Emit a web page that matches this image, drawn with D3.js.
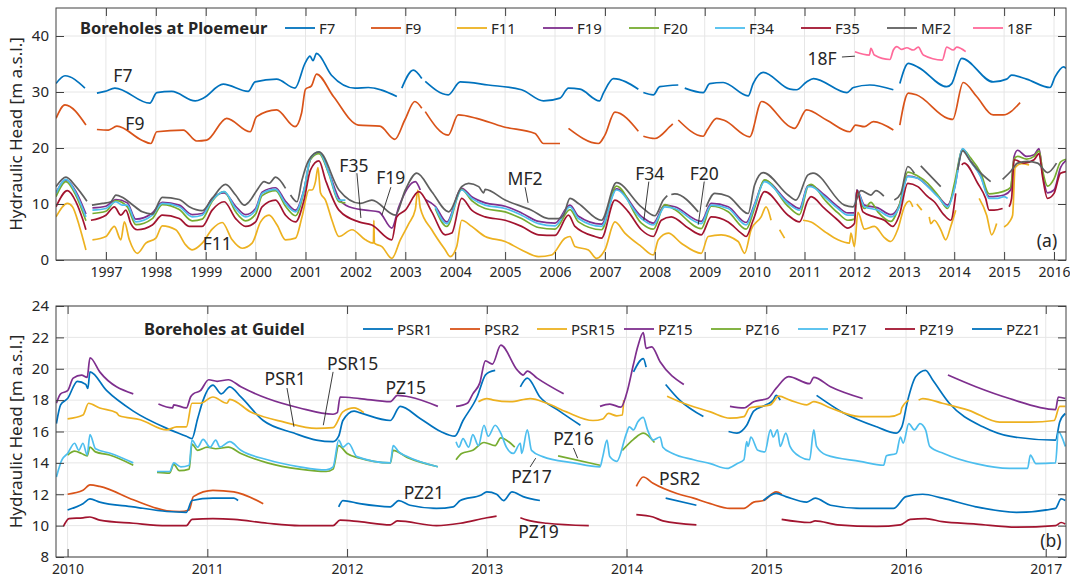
<!DOCTYPE html>
<html>
<head>
<meta charset="utf-8">
<script src="https://cdn.jsdelivr.net/npm/d3@7"></script>
<style>
body { margin: 0; background: #fff; }
svg text { font-family: "Noto Sans", sans-serif; fill: #262626; }
</style>
</head>
<body>
<svg id="chart" width="1070" height="582"></svg>
<script>
// ---- data: [decimal year, head (m a.s.l.)], null = gap in record ----
// Ploemeur boreholes
var f7 = [[1996.0,31.5],[1996.18,32.9],[1996.58,30.7],null,[1996.82,29.8],[1996.98,30.1],[1997.18,30.7],[1997.88,28.0],[1998.02,29.9],[1998.32,30.1],[1998.79,28.4],[1998.95,28.9],[1999.35,31.4],[1999.85,30.1],[1999.99,31.8],[2000.42,32.3],[2000.79,30.7],[2000.99,35.1],[2001.09,36.4],[2001.15,35.6],[2001.22,36.9],[2001.52,33.0],[2001.99,30.7],[2002.26,30.8],[2002.83,29.2],null,[2002.93,30.7],[2003.16,33.9],[2003.33,32.4],null,[2003.4,31.9],[2003.86,29.5],[2004.1,31.8],[2004.66,31.25],[2005.33,30.4],[2005.77,28.4],[2006.1,28.9],[2006.27,30.7],[2006.5,30.5],[2006.89,28.4],[2006.97,29.8],[2007.17,32.4],[2007.67,30.5],null,[2007.77,29.9],[2007.97,29.5],[2008.1,30.95],[2008.47,31.25],null,[2008.6,30.7],[2008.97,29.9],[2009.1,31.5],[2009.37,31.7],[2009.87,29.3],[2009.97,31.5],[2010.17,33.5],[2010.71,30.5],[2010.84,30.4],[2011.04,31.8],[2011.18,32.4],[2011.85,29.9],[2011.98,30.8],[2012.31,31.25],[2012.78,30.4],null,[2012.91,31.5],[2013.08,35.1],[2013.28,34.4],[2013.85,30.95],[2013.95,31.5],[2014.15,36.0],[2014.78,31.8],[2015.05,32.3],[2015.15,33.0],[2015.45,32.3],[2015.92,30.8],[2016.02,32.7],[2016.19,34.5],[2016.24,34.2]];
var f9 = [[1996.0,25.3],[1996.18,27.7],[1996.6,24.1],null,[1996.82,23.3],[1997.05,23.2],[1997.22,23.9],[1997.72,21.4],[1997.9,20.8],[1998.02,22.9],[1998.55,23.2],[1998.82,21.25],[1999.02,21.4],[1999.42,25.3],[1999.89,22.9],[2000.02,25.6],[2000.42,26.8],[2000.79,23.8],[2000.92,26.2],[2001.0,30.5],[2001.12,31.1],[2001.22,33.2],[2001.56,29.2],[2002.06,24.1],[2002.49,23.9],[2002.79,21.55],[2002.99,25.0],[2003.19,28.3],[2003.33,27.1],null,[2003.4,26.5],[2003.86,22.3],[2004.06,25.9],[2004.43,25.3],[2004.96,23.8],[2005.6,22.6],[2005.77,20.8],[2006.1,20.8],null,[2006.27,23.5],[2006.87,20.8],[2007.0,22.3],[2007.2,26.4],[2007.67,23.0],null,[2007.77,22.1],[2008.0,21.7],[2008.3,23.8],[2008.36,24.3],null,[2008.47,25.0],[2008.97,22.1],[2009.05,23.2],[2009.24,25.3],[2009.4,24.9],[2009.9,22.0],[2010.14,28.3],[2010.71,23.8],[2010.8,23.5],[2011.04,26.8],[2011.44,25.0],[2011.91,22.9],[2012.02,24.1],[2012.2,23.8],[2012.38,24.7],[2012.78,23.2],null,[2012.91,24.1],[2013.08,29.8],[2013.24,29.5],[2013.87,25.3],[2013.97,25.1],[2014.18,31.7],[2014.45,29.2],[2014.78,25.9],[2014.98,25.9],[2015.32,28.1]];
var f11 = [[1996.0,7.7],[1996.23,10.1],[1996.33,9.5],[1996.47,6.0],[1996.6,1.8],null,[1996.73,3.6],[1997.0,4.2],[1997.17,6.0],[1997.3,3.6],[1997.37,6.8],[1997.47,3.6],[1997.63,1.2],[1997.8,3.0],[1998.0,3.9],[1998.13,6.1],[1998.4,5.4],[1998.6,2.7],[1998.73,1.8],[1998.93,3.0],[1999.13,5.5],[1999.33,6.7],[1999.53,3.6],[1999.73,2.1],[1999.93,3.0],[2000.1,6.8],[2000.27,8.0],[2000.43,6.25],[2000.6,3.6],[2000.8,3.9],[2000.93,7.7],[2001.07,12.5],[2001.13,12.5],[2001.2,14.0],[2001.25,16.5],[2001.3,12.0],[2001.4,10.7],[2001.53,7.1],[2001.67,4.2],[2001.93,5.4],[2002.2,3.6],[2002.36,3.0],[2002.37,7.1],[2002.38,3.0],[2002.53,2.4],[2002.73,0.3],[2002.9,3.6],[2003.07,6.5],[2003.2,9.0],[2003.25,12.5],[2003.3,9.3],[2003.53,5.4],[2003.8,1.8],[2003.9,0.6],[2004.03,2.4],[2004.13,7.1],[2004.33,6.0],[2004.6,4.2],[2005.0,3.3],[2005.33,1.8],[2005.67,0.6],[2005.93,0.9],[2006.2,3.9],[2006.3,4.2],[2006.4,2.4],[2006.67,1.8],[2006.83,0.3],[2007.0,1.8],[2007.2,6.8],[2007.4,4.8],[2007.73,2.4],[2007.97,0.9],[2008.07,3.6],[2008.27,4.8],[2008.53,3.0],[2008.93,1.2],[2009.07,4.2],[2009.33,4.5],[2009.67,3.3],[2009.8,1.2],[2009.93,5.4],[2010.13,7.7],[2010.23,9.5],[2010.33,7.1],null,[2010.5,5.4],[2010.6,3.9],null,[2010.97,7.1],[2011.13,6.8],[2011.4,5.1],[2011.67,3.6],[2011.9,3.0],[2011.93,4.8],[2012.0,2.4],[2012.07,8.5],[2012.2,5.5],[2012.4,6.0],[2012.6,4.0],[2012.73,3.3],[2012.87,5.5],[2013.0,9.5],[2013.1,10.5],[2013.17,9.5],null,[2013.25,10.0],[2013.35,8.9],null,[2013.5,7.7],[2013.53,6.5],[2013.6,7.1],[2013.73,5.4],[2013.83,3.6],[2013.93,6.0],[2014.03,8.9],null,[2014.5,11.0],[2014.65,8.0],[2014.75,4.5],[2014.85,6.5],null,[2015.0,5.9],[2015.12,7.0],[2015.17,8.0],[2015.22,16.5],[2015.35,17.2],[2015.5,17.0]];
var f19 = [[1996.0,12.0],[1996.2,14.3],[1996.4,12.2],[1996.6,8.2],null,[1996.73,9.3],[1997.0,9.6],[1997.2,10.8],[1997.43,10.2],[1997.6,7.3],[1997.93,8.4],[1998.13,10.3],[1998.47,9.8],[1998.73,8.1],[1998.93,8.3],[1999.13,11.0],[1999.37,12.0],[1999.6,9.6],[1999.8,8.1],[2000.0,9.2],[2000.13,12.1],[2000.4,12.9],[2000.6,10.5],[2000.8,8.9],[2000.97,12.6],[2001.1,18.0],[2001.27,19.2],[2001.47,15.6],[2001.67,11.0],[2001.87,9.5],[2002.2,8.9],[2002.47,8.6],[2002.73,5.7],[2002.87,9.5],[2003.2,14.0],[2003.3,12.5],null,[2003.4,10.8],[2003.6,9.6],[2003.83,6.8],[2004.13,12.8],[2004.33,11.3],[2004.6,10.2],[2005.0,9.6],[2005.33,8.4],[2005.67,6.9],[2006.0,6.6],[2006.3,9.8],[2006.47,7.8],[2006.93,6.4],[2007.23,12.7],[2007.73,7.8],[2007.97,6.6],[2008.2,9.8],[2008.4,9.5],[2008.93,6.9],[2009.13,10.1],[2009.47,9.5],[2009.83,6.7],[2010.0,10.0],[2010.2,14.2],[2010.67,10.4],[2010.9,9.2],[2011.07,13.3],[2011.13,13.3],[2011.4,11.6],[2011.67,9.5],[2011.87,8.4],[2012.0,8.4],[2012.05,12.5],[2012.2,9.8],[2012.47,9.3],[2012.73,8.1],[2012.9,9.8],[2013.07,15.0],[2013.27,14.6],[2013.47,13.2],[2013.67,11.5],[2013.87,9.8],[2014.0,12.7],[2014.17,19.8],[2014.33,17.6],[2014.53,15.0],[2014.7,11.3],[2014.87,11.4],[2015.0,11.6],[2015.13,12.5],[2015.2,18.5],[2015.27,19.6],[2015.45,18.5],[2015.6,18.8],[2015.7,19.9],[2015.77,15.5],[2015.87,12.0],[2016.0,12.5],[2016.13,16.5],[2016.24,17.8]];
var f20 = [[1996.0,11.3],[1996.2,14.0],[1996.4,11.5],[1996.6,7.0],null,[1996.73,8.3],[1997.0,8.7],[1997.2,10.6],[1997.43,9.5],[1997.6,6.3],[1997.93,7.4],[1998.13,9.9],[1998.47,9.0],[1998.73,7.0],[1998.93,7.3],[1999.13,10.5],[1999.37,12.2],[1999.6,8.6],[1999.8,7.0],[2000.0,8.2],[2000.13,11.5],[2000.4,12.4],[2000.6,9.6],[2000.8,7.9],[2000.97,12.3],[2001.1,18.0],[2001.27,19.0],[2001.47,15.3],[2001.67,10.4],[2001.8,10.2],null,[2003.6,9.2],[2003.83,6.0],[2004.13,12.6],[2004.33,10.6],[2004.6,9.2],[2005.0,8.6],[2005.33,7.4],[2005.67,5.8],[2006.0,5.5],[2006.3,9.0],[2006.47,6.8],[2006.93,5.4],[2007.23,13.2],[2007.73,6.6],[2007.97,5.5],[2008.2,9.9],[2008.4,9.0],[2008.93,5.6],[2009.13,9.6],[2009.47,8.6],[2009.83,5.5],[2010.0,9.3],[2010.2,14.3],[2010.67,9.6],[2010.9,8.1],[2011.07,13.2],[2011.13,13.5],[2011.4,10.8],[2011.67,8.4],[2011.87,7.1],[2012.0,7.3],[2012.05,12.0],[2012.2,9.2],[2012.33,10.3],[2012.47,8.6],[2012.73,6.9],[2012.9,9.8],[2013.07,15.7],[2013.27,15.0],[2013.47,13.7],[2013.67,11.6],[2013.87,9.2],[2014.0,13.5],[2014.17,19.7],[2014.33,18.2],[2014.53,15.6],[2014.7,11.8],[2014.87,12.0],[2015.0,12.3],[2015.13,13.0],[2015.2,18.0],[2015.27,18.5],[2015.45,18.0],[2015.6,18.5],[2015.7,19.5],[2015.77,16.0],[2015.87,13.2],[2016.0,14.5],[2016.13,17.5],[2016.24,18.0]];
var f34 = [[1996.0,11.9],[1996.2,14.4],[1996.4,11.9],[1996.6,7.7],null,[1996.73,8.9],[1997.0,9.2],[1997.2,10.4],[1997.33,9.8],[1997.43,9.8],[1997.6,6.8],[1997.93,8.0],[1998.13,10.1],[1998.47,9.5],[1998.73,7.7],[1998.93,8.0],[1999.13,10.7],[1999.37,12.2],[1999.6,9.2],[1999.8,7.7],[2000.0,8.9],[2000.13,11.9],[2000.4,12.6],[2000.6,10.1],[2000.8,8.6],[2000.97,12.5],[2001.1,18.2],[2001.27,19.3],[2001.47,15.5],[2001.67,10.7],[2001.8,10.7],null,[2003.6,9.5],[2003.83,6.5],[2004.13,12.5],[2004.33,11.0],[2004.6,9.8],[2005.0,9.2],[2005.33,8.0],[2005.67,6.5],[2006.0,6.1],[2006.3,9.5],[2006.47,7.4],[2006.93,6.0],[2007.23,12.5],[2007.73,7.4],[2007.97,6.25],[2008.2,9.5],[2008.4,9.2],[2008.93,6.5],[2009.13,9.8],[2009.47,9.2],[2009.83,6.25],[2010.0,9.8],[2010.2,14.0],[2010.67,10.1],[2010.9,8.9],[2011.07,13.1],[2011.13,13.1],[2011.4,11.3],[2011.67,9.2],[2011.87,8.0],[2012.0,8.0],[2012.05,12.5],[2012.2,9.5],[2012.47,8.9],[2012.73,7.7],[2012.9,9.5],[2013.07,14.9],[2013.27,14.6],[2013.47,13.1],[2013.67,11.3],[2013.87,9.5],[2014.0,12.5],[2014.17,19.9],[2014.33,17.6],[2014.53,14.9],[2014.7,11.0],[2014.87,11.0],[2015.0,11.3],[2015.07,11.0]];
var f35 = [[1996.0,9.5],[1996.23,12.4],[1996.4,10.4],[1996.53,7.4],[1996.6,5.4],null,[1996.7,7.1],[1997.0,8.0],[1997.17,9.5],[1997.3,8.0],[1997.4,8.9],[1997.5,6.5],[1997.63,5.4],[1997.93,6.25],[1998.13,8.0],[1998.47,7.4],[1998.67,6.0],[1998.93,6.0],[1999.13,8.9],[1999.37,10.4],[1999.6,7.4],[1999.8,6.0],[2000.0,6.8],[2000.13,9.5],[2000.4,10.7],[2000.6,8.0],[2000.8,6.8],[2000.97,10.7],[2001.1,16.1],[2001.27,17.7],[2001.4,14.3],[2001.67,8.9],[2002.07,6.8],[2002.33,6.25],[2002.73,3.6],[2002.83,7.7],[2003.0,8.9],[2003.27,12.2],[2003.53,8.6],[2003.8,4.5],[2003.93,4.8],[2004.13,11.0],[2004.33,8.9],[2004.6,7.7],[2005.0,7.1],[2005.33,6.0],[2005.67,4.5],[2006.0,4.4],[2006.27,8.0],[2006.4,6.0],[2006.8,4.2],[2006.93,3.9],[2007.2,10.7],[2007.47,8.6],[2007.73,5.4],[2007.97,4.2],[2008.13,7.1],[2008.33,7.7],[2008.67,5.7],[2008.93,4.5],[2009.13,7.7],[2009.47,6.8],[2009.73,4.8],[2009.83,4.2],[2009.97,7.1],[2010.2,12.2],[2010.67,8.0],[2010.9,6.8],[2011.07,10.7],[2011.13,11.3],[2011.4,9.2],[2011.67,7.1],[2011.87,5.7],[2012.0,6.5],[2012.05,12.5],[2012.17,8.6],[2012.4,7.7],[2012.6,7.1],[2012.77,6.0],[2012.9,8.0],[2013.07,13.7],[2013.27,13.1],[2013.47,11.3],[2013.6,10.4],[2013.8,8.0],[2013.93,7.1],[2014.03,11.9],null,[2014.15,17.0],[2014.2,17.3],[2014.47,13.7],[2014.63,11.0],[2014.7,8.9],[2014.8,8.9],[2014.97,9.2],null,[2015.1,9.5],[2015.15,11.0],[2015.2,17.9],[2015.4,17.3],[2015.6,17.9],[2015.7,19.0],[2015.77,14.9],[2015.87,11.0],[2016.0,11.9],[2016.13,15.5],[2016.24,15.8]];
var mf2 = [[1996.0,13.1],[1996.2,14.8],[1996.4,13.1],[1996.62,10.5],null,[1996.72,9.8],[1996.93,10.1],[1997.1,10.4],[1997.2,11.6],[1997.33,11.2],[1997.5,10.1],[1997.73,8.6],[1997.93,8.2],[1998.13,11.2],[1998.47,10.8],[1998.67,9.5],[1998.93,8.8],[1999.13,11.0],[1999.4,13.5],[1999.6,11.6],[1999.77,9.8],[1999.87,10.4],[2000.03,12.5],[2000.17,14.0],[2000.27,13.7],[2000.4,14.8],[2000.6,12.8],null,[2000.7,11.6],[2000.83,10.4],[2000.93,14.3],[2001.07,17.9],[2001.27,19.3],[2001.67,12.5],[2002.1,10.1],[2002.33,10.7],[2002.8,8.0],[2003.0,12.5],[2003.23,15.5],[2003.53,12.2],[2003.87,8.6],[2004.13,13.1],[2004.27,13.7],[2004.47,13.1],[2004.57,12.0],[2004.6,12.6],[2005.0,10.7],[2005.53,8.9],[2005.87,7.4],[2006.07,7.4],[2006.17,8.0],[2006.3,11.0],[2006.47,10.1],[2006.93,7.1],[2007.23,13.8],[2007.73,9.5],[2008.0,7.9],[2008.17,10.7],[2008.25,11.5],null,[2008.33,11.7],[2008.4,11.8],[2008.87,8.6],null,[2009.03,9.5],[2009.2,11.9],[2009.47,11.4],[2009.87,8.3],[2010.0,13.4],[2010.17,15.6],[2010.67,11.6],[2010.83,10.7],[2011.07,15.2],[2011.17,15.5],[2011.8,9.8],[2011.97,9.5],[2012.13,12.4],[2012.33,11.6],[2012.43,12.4],[2012.59,11.4],null,[2012.8,10.7],[2012.93,11.9],[2013.07,16.7],[2013.2,15.5],null,[2013.33,16.8],[2013.73,13.1],null,[2014.07,16.1],[2014.17,19.5],[2014.3,18.0],[2014.47,16.1],[2014.73,14.0],null,[2014.97,14.4],[2015.13,15.8],[2015.27,17.3],[2015.47,17.6],[2015.67,17.3],[2015.87,15.6],[2016.05,17.3]];
var f18 = [[2012.01,37.2],[2012.3,36.6],[2012.33,37.8],[2012.4,36.6],[2012.71,35.8],[2012.78,37.5],[2012.85,38.1],[2012.95,37.6],[2013.05,37.9],[2013.18,37.5],[2013.28,38.0],[2013.38,36.6],[2013.76,35.7],[2013.85,38.0],[2013.98,37.5],[2014.05,38.0],[2014.23,37.2]];

// Guidel boreholes
var psr1 = [[2009.92,16.5],[2009.95,17.7],[2010.0,18.1],[2010.07,19.2],[2010.13,19.0],[2010.145,18.75],[2010.16,19.8],[2010.28,18.6],[2010.47,17.3],[2010.71,16.2],[2010.85,15.7],[2010.89,15.55],[2010.93,16.8],[2010.97,18.0],[2011.04,18.95],[2011.1,18.4],[2011.16,18.85],[2011.24,18.2],[2011.4,16.7],[2011.62,15.9],[2011.78,15.45],[2011.9,15.35],[2011.94,15.7],[2011.97,16.7],[2012.05,17.3],[2012.09,17.2],[2012.31,16.7],[2012.38,17.6],[2012.52,16.85],[2012.67,16.0],[2012.77,15.7],[2012.83,16.7],[2012.93,18.2],[2012.99,19.6],[2013.02,19.8],[2013.06,19.9],null,[2013.24,18.85],[2013.29,19.4],[2013.38,18.2],[2013.52,17.3],[2013.67,16.4],null,[2014.05,19.8],[2014.12,20.65],[2014.14,20.1],null,[2014.28,19.0],[2014.38,18.0],[2014.55,16.95],null,[2014.73,16.0],[2014.79,15.9],[2014.86,16.4],[2014.91,17.3],[2015.0,17.7],[2015.05,18.0],[2015.07,18.3],[2015.1,18.0],null,[2015.36,18.3],[2015.55,17.2],[2015.79,16.3],[2015.93,15.9],[2015.97,16.3],[2016.01,17.9],[2016.07,19.5],[2016.14,19.9],[2016.19,19.3],[2016.31,17.8],[2016.55,16.3],[2016.74,15.7],[2017.07,15.45],[2017.1,16.6],[2017.14,17.15]];
var psr2 = [[2010.0,12.0],[2010.11,12.25],[2010.16,12.6],[2010.23,12.5],[2010.47,11.65],[2010.64,11.1],[2010.71,10.95],[2010.8,10.9],[2010.87,11.0],[2010.9,11.85],[2011.04,12.25],[2011.19,12.15],[2011.4,11.4],null,[2014.07,12.5],[2014.12,13.1],[2014.19,12.7],[2014.36,12.05],[2014.48,11.75],[2014.6,11.4],[2014.74,11.1],[2014.84,11.1],[2014.91,11.5],[2014.98,11.6],[2015.07,12.15],[2015.11,12.0]];
var psr15 = [[2010.0,16.8],[2010.11,17.05],[2010.15,17.8],[2010.23,17.5],[2010.35,17.2],[2010.37,17.0],[2010.52,16.75],[2010.71,16.1],[2010.78,16.3],[2010.85,16.3],[2010.89,17.8],[2010.95,17.8],[2011.04,18.2],[2011.14,17.8],[2011.16,18.05],[2011.31,17.25],[2011.55,16.6],[2011.78,16.2],[2011.9,16.25],[2011.97,17.25],[2012.05,17.5],[2012.12,17.2],null,[2012.94,17.9],[2013.0,18.1],[2013.05,18.0],[2013.17,17.9],[2013.31,18.1],[2013.43,17.8],[2013.57,17.25],[2013.76,16.7],[2013.83,16.8],[2013.87,17.15],[2013.93,17.0],[2013.97,17.05],[2013.98,18.0],null,[2014.29,18.25],[2014.38,17.9],[2014.6,17.25],[2014.74,16.85],[2014.84,16.95],[2014.88,17.5],[2015.03,17.7],[2015.09,18.25],[2015.17,18.0],[2015.29,17.7],[2015.34,17.9],[2015.46,17.5],[2015.67,16.95],[2015.88,16.95],[2015.96,17.15],[2015.97,17.5],[2016.02,18.0],null,[2016.09,18.0],[2016.12,18.1],[2016.26,17.8],[2016.45,17.35],[2016.67,16.6],[2016.89,16.6],[2017.06,16.7],[2017.1,17.6],[2017.14,17.6]];
var pz15 = [[2009.92,17.8],[2009.95,18.4],[2010.0,18.6],[2010.04,19.4],[2010.1,19.6],[2010.14,19.45],[2010.16,20.7],[2010.23,19.8],[2010.47,18.4],null,[2010.65,17.75],[2010.75,17.5],[2010.76,17.7],[2010.85,17.5],[2010.88,18.2],[2010.9,18.4],[2010.95,18.6],[2011.01,19.3],[2011.07,19.2],[2011.15,19.3],[2011.24,18.85],[2011.43,18.1],[2011.66,17.5],[2011.9,17.1],[2011.93,17.2],[2011.95,18.2],[2012.09,18.1],[2012.31,17.9],[2012.36,18.3],[2012.45,18.2],[2012.65,17.6],null,[2012.78,17.6],[2012.86,17.8],[2012.9,18.4],[2012.95,19.1],[2012.99,20.5],[2013.04,20.3],[2013.1,21.5],[2013.22,19.9],[2013.26,19.6],[2013.29,19.85],[2013.36,19.4],[2013.55,18.4],null,[2013.81,17.6],[2013.88,17.75],[2013.96,17.55],[2014.0,18.4],[2014.05,20.3],[2014.08,21.4],[2014.12,22.3],[2014.14,21.3],[2014.18,21.4],[2014.24,20.45],[2014.41,19.0],null,[2014.74,17.6],[2014.84,17.5],[2014.91,17.9],[2015.01,18.1],[2015.07,18.75],[2015.16,19.5],[2015.31,19.05],[2015.34,19.45],[2015.46,18.85],[2015.69,18.1],null,[2016.3,19.6],[2016.5,18.85],[2016.74,18.1],[2017.07,17.4],[2017.09,18.2],[2017.14,18.1]];
var pz16 = [[2010.0,14.5],[2010.05,14.75],[2010.1,14.6],[2010.14,14.45],[2010.16,15.0],[2010.2,14.7],[2010.3,14.5],[2010.47,13.85],null,[2010.64,13.4],[2010.73,13.35],[2010.76,13.9],[2010.8,13.5],[2010.87,13.6],[2010.89,15.2],[2010.93,14.8],[2011.0,15.0],[2011.06,14.9],[2011.15,15.0],[2011.24,14.6],[2011.43,14.0],[2011.66,13.6],[2011.85,13.45],[2011.9,13.6],[2011.94,15.1],[2012.0,14.6],[2012.09,14.3],[2012.31,14.0],[2012.33,14.8],[2012.43,14.35],[2012.65,13.75],null,[2012.78,14.2],[2012.82,14.6],[2012.9,14.8],[2012.98,15.3],[2013.06,15.1],[2013.1,15.6],[2013.2,15.0],null,[2013.51,14.45],[2013.81,13.85],null,[2013.97,14.8],[2014.05,15.5],[2014.12,15.9],[2014.2,15.3]];
var pz17 = [[2009.92,13.1],[2009.96,14.2],[2010.0,14.6],[2010.05,15.25],[2010.08,14.8],[2010.11,15.25],[2010.14,14.5],[2010.16,15.8],[2010.2,14.9],[2010.31,14.6],[2010.47,14.0],null,[2010.64,13.45],[2010.73,13.45],[2010.76,14.0],[2010.81,13.75],[2010.87,13.85],[2010.89,15.45],[2010.93,15.0],[2010.97,15.5],[2011.02,15.0],[2011.06,15.45],[2011.09,15.0],[2011.16,15.35],[2011.24,14.8],[2011.43,14.2],[2011.66,13.75],[2011.85,13.55],[2011.9,13.75],[2011.94,15.45],[2011.97,15.0],[2012.01,15.25],[2012.07,14.4],[2012.31,14.0],[2012.33,15.1],[2012.37,14.7],[2012.43,14.4],[2012.65,13.75],null,[2012.78,15.35],[2012.8,15.0],[2012.83,15.55],[2012.87,15.0],[2012.9,15.8],[2012.94,15.1],[2012.98,16.4],[2013.01,15.7],[2013.06,16.4],[2013.1,15.9],[2013.14,15.0],[2013.19,14.6],[2013.24,15.25],[2013.25,14.6],[2013.29,16.1],[2013.32,14.8],[2013.4,14.4],[2013.62,14.0],[2013.81,13.75],[2013.83,14.4],[2013.86,15.45],[2013.88,14.4],[2013.93,14.1],[2014.0,15.9],[2014.02,16.3],[2014.05,16.1],[2014.08,16.6],[2014.12,16.9],[2014.15,16.1],[2014.19,15.45],[2014.24,15.65],[2014.26,15.0],[2014.33,14.6],[2014.48,14.2],[2014.6,13.95],[2014.72,13.65],[2014.79,13.95],[2014.84,14.2],[2014.86,15.35],[2014.87,15.05],[2014.89,15.65],[2014.94,14.8],[2014.99,14.7],[2015.03,16.1],[2015.05,15.65],[2015.08,16.1],[2015.1,15.05],[2015.14,15.9],[2015.17,15.05],[2015.24,14.4],[2015.31,14.2],[2015.34,16.1],[2015.36,15.05],[2015.43,14.5],[2015.67,14.1],[2015.84,13.85],[2015.86,14.45],[2015.93,14.6],[2015.96,15.65],[2015.98,15.25],[2016.02,16.5],[2016.06,16.1],[2016.1,16.5],[2016.14,16.1],[2016.17,15.05],[2016.27,14.6],[2016.5,13.95],[2016.74,13.65],[2016.87,13.65],[2016.89,14.5],[2016.93,13.95],[2017.07,14.0],[2017.09,16.0],[2017.12,15.55],[2017.14,15.05]];
var pz19 = [[2009.97,9.95],[2010.01,10.45],[2010.11,10.5],[2010.16,10.55],[2010.23,10.35],[2010.47,10.15],[2010.71,10.0],[2010.85,10.0],[2010.89,10.4],[2011.04,10.45],[2011.19,10.4],[2011.43,10.15],[2011.66,10.0],[2011.9,10.0],[2011.95,10.35],[2012.09,10.25],[2012.31,10.05],[2012.36,10.3],[2012.64,10.0],[2012.81,10.15],[2013.0,10.5],[2013.07,10.6],null,[2013.24,10.5],[2013.29,10.35],[2013.43,10.15],[2013.73,10.0],null,[2014.07,10.7],[2014.19,10.55],[2014.26,10.3],[2014.5,10.05],null,[2015.11,10.4],[2015.31,10.2],[2015.35,10.3],[2015.51,10.05],[2015.79,9.95],[2015.96,10.05],[2016.03,10.4],[2016.14,10.45],[2016.26,10.25],[2016.5,10.1],[2016.79,9.9],[2017.07,10.0],[2017.11,10.2],[2017.14,10.1]];
var pz21 = [[2010.0,11.0],[2010.11,11.4],[2010.16,11.7],[2010.23,11.5],[2010.47,11.2],[2010.71,10.9],[2010.85,10.85],[2010.89,11.6],[2011.04,11.75],[2011.19,11.75],[2011.22,11.6],null,[2011.94,11.2],[2011.97,11.6],[2012.09,11.4],[2012.31,11.2],[2012.37,11.6],[2012.45,11.3],[2012.64,11.1],[2012.76,11.2],[2012.81,11.6],[2012.96,11.95],[2013.0,12.15],[2013.07,12.0],[2013.12,11.6],[2013.18,12.15],[2013.26,11.85],[2013.38,11.6],null,[2014.28,11.75],[2014.5,11.3],null,[2014.98,11.6],[2015.07,12.05],[2015.14,11.85],[2015.29,11.5],[2015.35,11.75],[2015.46,11.3],[2015.67,11.1],[2015.91,11.1],[2016.0,11.85],[2016.12,12.0],[2016.26,11.75],[2016.5,11.2],[2016.79,10.85],[2017.07,11.1],[2017.11,11.7],[2017.14,11.6]];

var topNames = ["F7","F9","F11","F19","F20","F34","F35","MF2","18F"];
var topData = [f7, f9, f11, f19, f20, f34, f35, mf2, f18];
var topColors = ["#0072bd","#d95319","#edb120","#7e2f8e","#77ac30","#4dbeee","#a2142f","#5f5f5f","#ff6a9a"];
var botNames = ["PSR1","PSR2","PSR15","PZ15","PZ16","PZ17","PZ19","PZ21"];
var botData = [psr1, psr2, psr15, pz15, pz16, pz17, pz19, pz21];
var botColors = ["#0072bd","#d95319","#edb120","#7e2f8e","#77ac30","#4dbeee","#a2142f","#0072bd"];

var topYears = d3.range(1997, 2017);
var botYears = d3.range(2010, 2018);

var svg = d3.select("#chart");

// draw one axes box (MATLAB style: grid, inward ticks on all sides)
function drawPanel(o) {
    var x = d3.scaleLinear().domain(o.xDomain).range([o.left, o.right]);
    var y = d3.scaleLinear().domain(o.yDomain).range([o.bottom, o.top]);
    var g = svg.append("g");

    // grid
    g.append("g").selectAll("line").data(o.xTicks).enter().append("line")
        .attr("x1", d => x(d)).attr("x2", d => x(d))
        .attr("y1", o.top).attr("y2", o.bottom)
        .attr("stroke", "#e6e6e6").attr("stroke-width", 1);
    g.append("g").selectAll("line").data(o.yTicks).enter().append("line")
        .attr("y1", d => y(d)).attr("y2", d => y(d))
        .attr("x1", o.left).attr("x2", o.right)
        .attr("stroke", "#e6e6e6").attr("stroke-width", 1);

    // series
    var clipId = "clip" + o.id;
    svg.append("clipPath").attr("id", clipId).append("rect")
        .attr("x", o.left).attr("y", o.top)
        .attr("width", o.right - o.left).attr("height", o.bottom - o.top);
    var line = d3.line().defined(d => d !== null)
        .x(d => x(d[0])).y(d => y(d[1]))
        .curve(d3.curveMonotoneX);
    g.append("g").attr("clip-path", "url(#" + clipId + ")")
        .selectAll("path").data(o.data).enter().append("path")
        .attr("d", d => line(d))
        .attr("fill", "none")
        .attr("stroke", (d, i) => o.colors[i])
        .attr("stroke-width", 1.7)
        .attr("stroke-linejoin", "round");

    // axes, ticks inward
    var tk = 8;
    var ax = g.append("g").attr("transform", "translate(0," + o.bottom + ")")
        .call(d3.axisBottom(x).tickValues(o.xTicks).tickFormat(d3.format("d")).tickSize(-tk).tickPadding(7));
    g.append("g").attr("transform", "translate(0," + o.top + ")")
        .call(d3.axisTop(x).tickValues(o.xTicks).tickFormat("").tickSize(-tk));
    var ay = g.append("g").attr("transform", "translate(" + o.left + ",0)")
        .call(d3.axisLeft(y).tickValues(o.yTicks).tickSize(-tk).tickPadding(7));
    g.append("g").attr("transform", "translate(" + o.right + ",0)")
        .call(d3.axisRight(y).tickValues(o.yTicks).tickFormat("").tickSize(-tk));
    g.selectAll(".domain").remove();
    g.selectAll(".tick line").attr("stroke", "#404040");
    g.selectAll(".tick text").attr("font-family", "Noto Sans").attr("fill", "#262626");
    ax.selectAll(".tick text").attr("font-size", 14);
    ay.selectAll(".tick text").attr("font-size", 15);
    g.append("rect").attr("x", o.left).attr("y", o.top)
        .attr("width", o.right - o.left).attr("height", o.bottom - o.top)
        .attr("fill", "none").attr("stroke", "#404040").attr("stroke-width", 1);

    // y label
    g.append("text")
        .attr("transform", "translate(22," + ((o.top + o.bottom) / 2) + ") rotate(-90)")
        .attr("text-anchor", "middle").attr("font-size", 17)
        .text("Hydraulic Head [m a.s.l.]");

    // title + legend
    g.append("text").attr("x", o.titleX).attr("y", o.legendY + 6)
        .attr("font-family", "Liberation Sans, Arial, sans-serif")
        .attr("font-weight", "bold").attr("font-size", 16.5)
        .text(o.title);
    var lg = g.append("g").selectAll("g").data(o.names).enter().append("g")
        .attr("transform", (d, i) => "translate(" + (o.legendX + i * o.legendStep) + "," + o.legendY + ")");
    lg.append("line").attr("x1", 0).attr("x2", 30)
        .attr("stroke", (d, i) => o.colors[i]).attr("stroke-width", 1.8);
    lg.append("text").attr("x", 34).attr("y", 5.5).attr("font-size", 15).text(d => d);

    return {x: x, y: y, g: g};
}

var panelA = drawPanel({
    id: "a", left: 56, right: 1066, top: 8, bottom: 260,
    xDomain: [1996.0, 2016.24], yDomain: [0, 45],
    xTicks: topYears, yTicks: [0, 10, 20, 30, 40],
    data: topData, colors: topColors, names: topNames,
    title: "Boreholes at Ploemeur", titleX: 80, legendY: 28, legendX: 285, legendStep: 86
});
var panelB = drawPanel({
    id: "b", left: 56, right: 1066, top: 306, bottom: 557,
    xDomain: [2009.917, 2017.145], yDomain: [8, 24],
    xTicks: botYears, yTicks: [8, 10, 12, 14, 16, 18, 20, 22, 24],
    data: botData, colors: botColors, names: botNames,
    title: "Boreholes at Guidel", titleX: 144, legendY: 329, legendX: 363, legendStep: 87
});

// annotations: [text, year, head] + optional leader [year1, head1, year2, head2]
var topNotes = [["F7", 1997.34, 33.0], ["F9", 1997.58, 24.5], ["F11", 1999.23, 3.0],
    ["F35", 2001.97, 17.0, 2002.03, 15.5, 2002.11, 7.5], ["F19", 2002.71, 14.8, 2002.71, 13.0, 2002.53, 8.0],
    ["MF2", 2005.4, 14.6, 2005.4, 13.0, 2005.46, 10.2], ["F34", 2007.9, 15.5, 2007.88, 14.0, 2007.78, 7.1],
    ["F20", 2008.99, 15.5, 2008.99, 14.0, 2008.87, 6.3], ["18F", 2011.35, 36.1, 2011.75, 36.25, 2012.01, 36.4]];
var botNotes = [["PSR1", 2011.557, 19.4, 2011.57, 18.77, 2011.62, 16.3], ["PSR15", 2012.04, 20.35, 2011.9, 19.8, 2011.83, 16.4],
    ["PZ15", 2012.42, 18.85], ["PZ21", 2012.55, 12.14], ["PZ19", 2013.37, 9.66],
    ["PZ16", 2013.62, 15.58, 2013.62, 14.95, 2013.65, 14.3], ["PZ17", 2013.32, 13.16, 2013.31, 13.74, 2013.35, 14.3],
    ["PSR2", 2014.38, 13.03]];

function drawNotes(p, notes) {
    notes.forEach(function (n) {
        p.g.append("text").attr("x", p.x(n[1])).attr("y", p.y(n[2]))
            .attr("text-anchor", "middle").attr("dominant-baseline", "central")
            .attr("font-size", 17.5).text(n[0]);
        if (n.length > 3) {
            p.g.append("line")
                .attr("x1", p.x(n[3])).attr("y1", p.y(n[4]))
                .attr("x2", p.x(n[5])).attr("y2", p.y(n[6]))
                .attr("stroke", "#262626").attr("stroke-width", 0.9);
        }
    });
}
drawNotes(panelA, topNotes);
drawNotes(panelB, botNotes);

panelA.g.append("text").attr("x", 1047).attr("y", panelA.y(3.6)).attr("text-anchor", "middle")
    .attr("dominant-baseline", "central").attr("font-size", 17.5).text("(a)");
panelB.g.append("text").attr("x", 1051).attr("y", panelB.y(9.1)).attr("text-anchor", "middle")
    .attr("dominant-baseline", "central").attr("font-size", 17.5).text("(b)");
</script>
</body>
</html>
